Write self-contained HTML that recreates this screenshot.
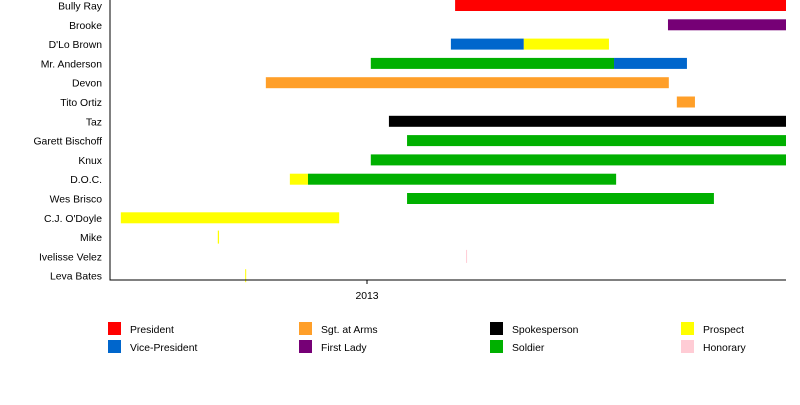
<!DOCTYPE html>
<html><head><meta charset="utf-8"><style>
body{margin:0;background:#fff;}
svg text{font-family:"Liberation Sans",sans-serif;font-size:10.4px;fill:#000;}
</style></head><body>
<svg id="c" width="800" height="400" xmlns="http://www.w3.org/2000/svg"></svg>
<script>
const members = ["Bully Ray","Brooke","D'Lo Brown","Mr. Anderson","Devon","Tito Ortiz","Taz","Garett Bischoff","Knux","D.O.C.","Wes Brisco","C.J. O'Doyle","Mike","Ivelisse Velez","Leva Bates"];
const barMember = [0,1,2,2,3,3,4,5,6,7,8,9,9,10,11,12,13,14];
const barRole = ["President","First Lady","Vice-President","Prospect","Soldier","Vice-President","Sgt. at Arms","Sgt. at Arms","Spokesperson","Soldier","Soldier","Prospect","Soldier","Soldier","Prospect","Prospect","Honorary","Prospect"];
const barStart = [2013.209,2013.714,2013.199,2013.372,2013.009,2013.586,2012.760,2013.735,2013.052,2013.095,2013.009,2012.817,2012.860,2013.095,2012.416,2012.646,2013.235,2012.711];
const barEnd = [2013.994,2013.994,2013.372,2013.574,2013.586,2013.759,2013.716,2013.778,2013.994,2013.994,2013.994,2012.860,2013.591,2013.823,2012.934,2012.649,2013.237,2012.713];
const roles = ["President","Vice-President","Sgt. at Arms","First Lady","Spokesperson","Soldier","Prospect","Honorary"];
const roleColors = ["#ff0000","#0066cc","#ff9f29","#760076","#000000","#00b000","#ffff00","#ffccd5"];
const ticks = [2013];

const svg = document.getElementById('c');
const NS = "http://www.w3.org/2000/svg";
const L=110,R=786,T0=2012.3903,T1=2013.994,B=280;
const x = t => L + (t-T0)/(T1-T0)*(R-L);
const rowTop = i => i*19.3;
function mk(tag, attrs){const e=document.createElementNS(NS,tag);for(const k in attrs)e.setAttribute(k,attrs[k]);svg.appendChild(e);return e;}

members.forEach((m,i)=>{
  const t=mk('text',{x:102,y:rowTop(i)+9.5,'text-anchor':'end'});
  t.textContent=m;
  
  
});
barStart.forEach((s,k)=>{
  const i=barMember[k];
  const thin=(barEnd[k]-s)<0.01;
  const w=Math.max(x(barEnd[k])-x(s),1);
  const r=mk('rect',{x:x(s),y:rowTop(i)+(thin?-1:0),width:w,height:thin?13:11,fill:roleColors[roles.indexOf(barRole[k])]});
  
  
});
const ax=mk('path',{d:`M${L} 0 V${B} H${R}`,stroke:'#000',fill:'none','stroke-width':1});


ticks.forEach(tk=>{
  const l=mk('line',{x1:x(tk),x2:x(tk),y1:B,y2:B+4,stroke:'#000'});
  
  
  const t=mk('text',{x:x(tk),y:B+19,'text-anchor':'middle'});
  t.textContent=tk;
  
  
});
const legendOrder=["President","Sgt. at Arms","Spokesperson","Prospect","Vice-President","First Lady","Soldier","Honorary"];
legendOrder.forEach((r,j)=>{
  const col=j%4,row=Math.floor(j/4);
  const lx=[108,299,490,681][col],ly=322+row*18;
  const s=mk('rect',{x:lx,y:ly,width:13,height:13,fill:roleColors[roles.indexOf(r)]});
  
  
  const t=mk('text',{x:lx+22,y:ly+11});
  t.textContent=r;
  
  
});
</script>
</body></html>
